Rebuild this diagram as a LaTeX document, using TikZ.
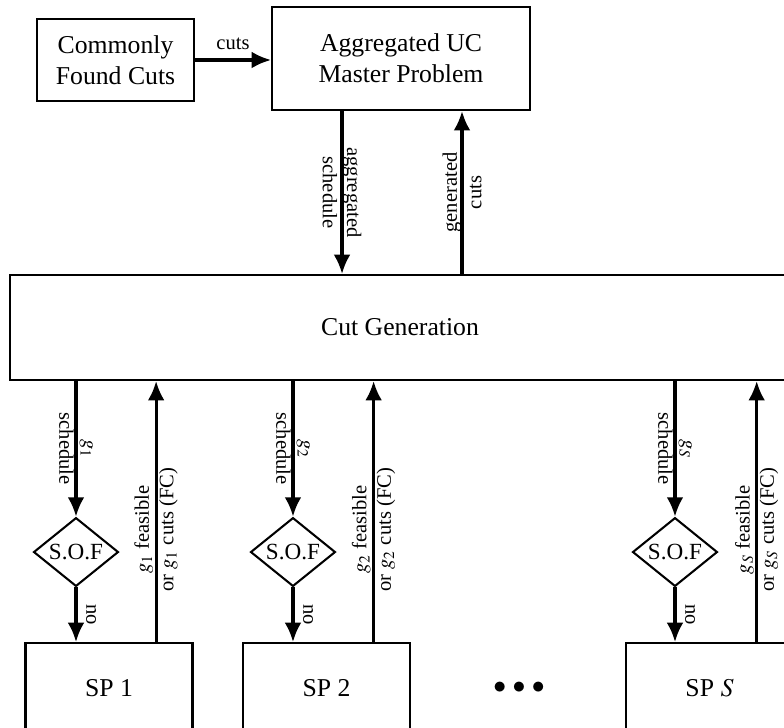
\documentclass[tikz,border=0pt]{standalone}
\usepackage{mathptmx}
\usepackage{fontspec}
\setmainfont{Liberation Serif}
\usetikzlibrary{arrows.meta, shapes.geometric, calc}

\begin{document}
\begin{tikzpicture}[
		% Style for the rectangular blocks
		block/.style={draw, line width=0.8pt, align=center, inner sep=2pt},
		sp/.style={block, minimum width=2.283cm, minimum height=1.23cm},
		% Style for the S.O.F checks
		check/.style={draw, diamond, line width=0.8pt, aspect=1.25, inner sep=0.5pt,
			minimum width=1.16cm, minimum height=0.94cm, font=\small},
		% Connector styles
		arrow/.style={-{Latex[length=7.5pt, width=6.5pt]}, line width=1.2pt},
		edge label/.style={font=\footnotesize, align=center}
		]
		\useasboundingbox (0,0) rectangle (10.717,-9.938);
		\clip (0,0) rectangle (10.717,-9.938);
		
		% --- 1. Master level ---
		\node[block, minimum width=2.146cm, minimum height=1.121cm] (cfc) at (1.579,-0.820) {Commonly\\Found Cuts};
		\node[block, minimum width=3.527cm, minimum height=1.408cm] (agg) at (5.482,-0.800) {Aggregated UC\\Master Problem};
		\draw[arrow] (cfc.east) -- (cfc.east -| agg.west) node[midway, above, edge label] {cuts};
		
		% --- 2. Cut generation ---
		\node[block, minimum width=10.66cm, minimum height=1.435cm] (cg) at (5.468,-4.477) {Cut Generation};
		\coordinate (a1) at ($(agg.south west)+(0.971,0)$);
		\coordinate (a2) at ($(agg.south west)+(2.611,0)$);
		\draw[arrow] (a1) -- (a1 |- cg.north) node[midway, rotate=-90, edge label] {aggregated\\schedule};
		\draw[arrow] (a2 |- cg.north) -- (a2) node[midway, rotate=90, edge label] {generated\\cuts};
		
		% --- 3. Subproblem 1 ---
		\node[check] (d1) at (1.039,-7.546) {S.O.F};
		\node[sp] (sp1) at (1.490,-9.405) {SP 1};
		\coordinate (f1) at ($(sp1.north west)+(1.80,0)$);
		\draw[arrow] (d1.north |- cg.south) -- (d1.north) node[midway, rotate=-90, edge label] {$g_1$\\schedule};
		\draw[arrow] (d1.south) -- (d1.south |- sp1.north) node[midway, anchor=south, rotate=-90, edge label] {no};
		\draw[arrow] (f1) -- (f1 |- cg.south) node[pos=0.43, rotate=90, edge label] {$g_1$ feasible\\or $g_1$ cuts (FC)};
		
		% --- 4. Subproblem 2 ---
		\node[check] (d2) at (4.005,-7.546) {S.O.F};
		\node[sp] (sp2) at (4.463,-9.405) {SP 2};
		\coordinate (f2) at ($(sp2.north west)+(1.80,0)$);
		\draw[arrow] (d2.north |- cg.south) -- (d2.north) node[midway, rotate=-90, edge label] {$g_2$\\schedule};
		\draw[arrow] (d2.south) -- (d2.south |- sp2.north) node[midway, anchor=south, rotate=-90, edge label] {no};
		\draw[arrow] (f2) -- (f2 |- cg.south) node[pos=0.43, rotate=90, edge label] {$g_2$ feasible\\or $g_2$ cuts (FC)};
		
		% --- 5. Subproblem S ---
		\node[check] (dS) at (9.227,-7.546) {S.O.F};
		\node[sp] (spS) at (9.699,-9.405) {SP $S$};
		\coordinate (fS) at ($(spS.north west)+(1.80,0)$);
		\draw[arrow] (dS.north |- cg.south) -- (dS.north) node[midway, rotate=-90, edge label] {$g_S$\\schedule};
		\draw[arrow] (dS.south) -- (dS.south |- spS.north) node[midway, anchor=south, rotate=-90, edge label] {no};
		\draw[arrow] (fS) -- (fS |- cg.south) node[pos=0.43, rotate=90, edge label] {$g_S$ feasible\\or $g_S$ cuts (FC)};
		
		% --- 6. Dots between subproblems ---
		\node (dots) at (7.095,-9.405) {$\bullet\,\bullet\,\bullet$};
		
	\end{tikzpicture}
\end{document}
